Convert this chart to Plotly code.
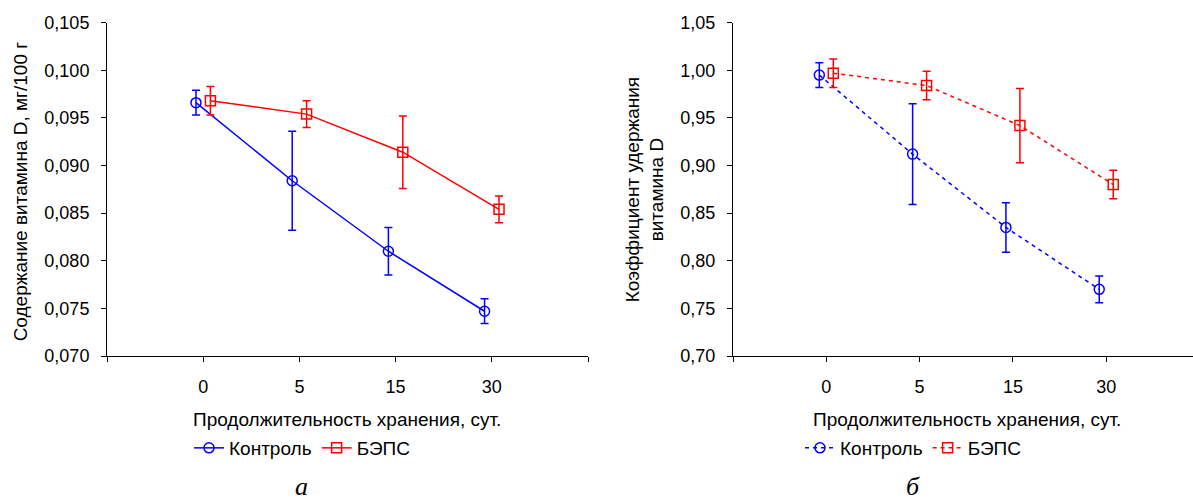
import plotly.graph_objects as go

# ---- data ----
days = ["0", "5", "15", "30"]
idx = [0, 1, 2, 3]

ctrl_content = [0.0966, 0.0884, 0.0810, 0.0747]
ctrl_content_err = [0.0013, 0.0052, 0.0025, 0.0013]
beps_content = [0.0968, 0.0954, 0.0914, 0.0854]
beps_content_err = [0.0015, 0.0014, 0.0038, 0.0014]

ctrl_coef = [0.995, 0.912, 0.835, 0.770]
ctrl_coef_err = [0.013, 0.053, 0.026, 0.014]
beps_coef = [0.997, 0.984, 0.942, 0.880]
beps_coef_err = [0.015, 0.015, 0.039, 0.015]

BLUE = "#0000FF"
RED = "#FF0000"
FONT = "Liberation Sans, Arial, sans-serif"
SERIF = "Liberation Serif, Times New Roman, serif"
OFF = 0.075
TICK_SIZE = 18
TITLE_SIZE = 19

W, H = 1193, 504

x_ctrl = [i - OFF for i in idx]
x_beps = [i + OFF for i in idx]

fig = go.Figure()

def add(x, y, err, color, symbol, name, xa, ya, legend, dash):
    fig.add_trace(go.Scatter(
        x=x, y=y, mode="lines+markers", name=name,
        xaxis=xa, yaxis=ya, legend=legend,
        line=dict(color=color, width=1.5, dash=dash),
        marker=dict(symbol=symbol, size=10, color=color,
                    line=dict(color=color, width=1.5)),
        error_y=dict(type="data", array=err, visible=True, color=color,
                     thickness=1.5, width=4),
    ))

add(x_ctrl, ctrl_content, ctrl_content_err, BLUE, "circle-open", "Контроль", "x", "y", "legend", "solid")
add(x_beps, beps_content, beps_content_err, RED, "square-open", "БЭПС", "x", "y", "legend", "solid")
add(x_ctrl, ctrl_coef, ctrl_coef_err, BLUE, "circle-open", "Контроль", "x2", "y2", "legend2", "4px,4px")
add(x_beps, beps_coef, beps_coef_err, RED, "square-open", "БЭПС", "x2", "y2", "legend2", "4px,4px")

ydom = [1 - 356 / H, 1 - 22.7 / H]
xdom1 = [107 / W, 588 / W]
xdom2 = [733 / W, 1.0]

tickvals = [-1, 0, 1, 2, 3, 4]
ticktext = [""] + days + [""]

axis_common = dict(
    showline=True, linecolor="black", linewidth=1,
    ticks="outside", ticklen=5, tickcolor="black", tickwidth=1,
    showgrid=False, zeroline=False, automargin=False,
    tickfont=dict(family=FONT, size=TICK_SIZE, color="black"),
)

legend_common = dict(orientation="h", xanchor="left", yanchor="middle",
                     font=dict(family=FONT, size=TITLE_SIZE, color="black"),
                     bgcolor="rgba(0,0,0,0)", itemwidth=30, tracegroupgap=0)

fig.update_layout(
    width=W, height=H,
    margin=dict(l=0, r=0, t=0, b=0, pad=0, autoexpand=False),
    plot_bgcolor="white", paper_bgcolor="white",
    separators=", ",
    font=dict(family=FONT, size=TITLE_SIZE, color="black"),
    xaxis=dict(domain=xdom1, anchor="y", range=[-1, 4], tickmode="array",
               tickvals=tickvals, ticktext=ticktext, ticklabelstandoff=9, **axis_common),
    yaxis=dict(domain=ydom, anchor="x", range=[0.070, 0.105], dtick=0.005,
               tick0=0.070, tickformat=".3f", ticklabelstandoff=8, **axis_common),
    xaxis2=dict(domain=xdom2, anchor="y2", range=[-1, 3.93], tickmode="array",
                tickvals=tickvals, ticktext=ticktext, ticklabelstandoff=9, **axis_common),
    yaxis2=dict(domain=ydom, anchor="x2", range=[0.70, 1.05], dtick=0.05,
                tick0=0.70, tickformat=".2f", ticklabelstandoff=8, **axis_common),
    legend=dict(x=189 / W, y=1 - 448 / H, **legend_common),
    legend2=dict(x=800 / W, y=1 - 448 / H, **legend_common),
    showlegend=True,
)

def txt(text, x, y, angle=0, family=FONT, size=TITLE_SIZE):
    return dict(text=text, x=x / W, y=1 - y / H, textangle=angle, showarrow=False,
                xref="paper", yref="paper", xanchor="center", yanchor="middle",
                font=dict(family=family, size=size, color="black"))

ymid = (22.7 + 356) / 2
annotations = [
    txt("Содержание витамина D, мг/100 г", 20, ymid + 2, -90),
    txt("Коэффициент удержания<br>витамина D", 645, ymid, -90),
    txt("Продолжительность хранения, сут.", 347, 419),
    txt("Продолжительность хранения, сут.", 967, 419),
    txt("<i>а</i>", 301, 486, family=SERIF, size=26),
    txt("<i>б</i>", 913, 486, family=SERIF, size=26),
]
fig.update_layout(annotations=annotations)

fig.write_html(
    "out.html",
    config={"displayModeBar": False},
    post_script="document.body.style.margin='0px';document.body.style.overflow='hidden';",
)
